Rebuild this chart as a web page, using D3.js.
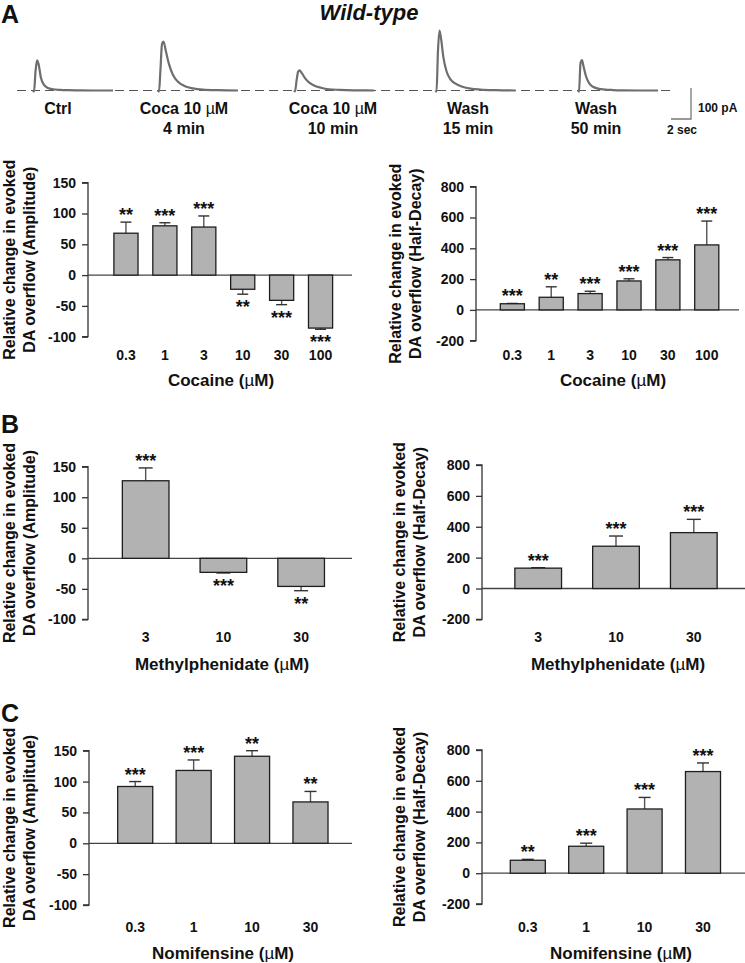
<!DOCTYPE html>
<html><head><meta charset="utf-8">
<script src="https://cdn.jsdelivr.net/npm/d3@7"></script>
<style>
body{margin:0;background:#fff}
text{font-family:"Liberation Sans",Arial,Helvetica,sans-serif;font-weight:bold;fill:#111}
</style>
</head><body><svg id="c" width="745" height="963"></svg>
<script>
// ---------------- DATA ----------------
const cocaineDoses = ["0.3","1","3","10","30","100"];
const cocaineAmp = [68, 80, 78, -23, -41, -86];
const cocaineAmpErr = [18, 5, 18, 8, 7, 2];
const cocaineAmpSig = ["**","***","***","**","***","***"];
const cocaineDecay = [40, 82, 106, 188, 325, 422];
const cocaineDecayErr = [2, 68, 15, 14, 15, 155];
const cocaineDecaySig = ["***","**","***","***","***","***"];

const mphDoses = ["3","10","30"];
const mphAmp = [127, -23, -46];
const mphAmpErr = [21, 1, 7];
const mphAmpSig = ["***","***","**"];
const mphDecay = [132, 274, 362];
const mphDecayErr = [3, 66, 86];
const mphDecaySig = ["***","***","***"];

const nomDoses = ["0.3","1","10","30"];
const nomAmp = [92, 118, 141, 67];
const nomAmpErr = [8, 17, 9, 17];
const nomAmpSig = ["***","***","**","**"];
const nomDecay = [84, 175, 417, 660];
const nomDecayErr = [6, 20, 75, 56];
const nomDecaySig = ["**","***","***","***"];

const ampTicks = [-100, -50, 0, 50, 100, 150];
const decayTicks = [-200, 0, 200, 400, 600, 800];

// example traces (time in s, current in pA)
const traceTime = [0, 0.1, 0.25, 0.4, 0.55, 0.8, 1.1, 1.5, 2.0, 2.7, 3.5, 4.5, 6, 8];
const traceCtrl   = [0, -4, 60, 97, 86, 40, 18, 8, 4, 2, 1, 0.5, 0, 0];
const traceCoca4  = [0, -4, 70, 150, 158, 125, 85, 50, 28, 14, 7, 3, 1, 0];
const traceCoca10 = [0, -3, 30, 60, 65, 55, 40, 26, 16, 9, 4, 2, 0.5, 0];
const traceWash15 = [0, -4, 130, 193, 168, 105, 62, 36, 22, 12, 6, 3, 1, 0];
const traceWash50 = [0, -4, 88, 98, 78, 46, 24, 12, 6, 3, 1.5, 0.5, 0, 0];
const traceLabels = [["Ctrl"], ["Coca 10 µM", "4 min"], ["Coca 10 µM", "10 min"], ["Wash", "15 min"], ["Wash", "50 min"]];

// ---------------- DRAW ----------------
const svg = d3.select("#c");

function addText(sel, str) {
  const parts = str.split("µ");
  parts.forEach((p, i) => {
    if (p) sel.append("tspan").text(p);
    if (i < parts.length - 1) sel.append("tspan").attr("font-weight", "normal").text("µ");
  });
  return sel;
}

// header
svg.append("text").attr("x", 1).attr("y", 23).attr("font-size", 25).text("A");
svg.append("text").attr("x", 369).attr("y", 20).attr("text-anchor", "middle")
  .attr("font-size", 22).attr("font-style", "italic").text("Wild-type");

// traces
const tx = d3.scaleLinear().domain([0, 2]).range([0, 20]);
const ty = d3.scaleLinear().domain([0, 100]).range([90.5, 59.5]);
svg.append("line").attr("x1", 17).attr("x2", 671).attr("y1", ty(0)).attr("y2", ty(0))
  .attr("stroke", "#555").attr("stroke-width", 1.2).attr("stroke-dasharray", "9,5");
const traces = [traceCtrl, traceCoca4, traceCoca10, traceWash15, traceWash50];
const traceX0 = [33, 158, 294, 435.5, 578];
const labelX = [58, 184, 333, 468, 596];
const line = d3.line().x(d => tx(d[0])).y(d => ty(d[1])).curve(d3.curveMonotoneX);
traces.forEach((tr, i) => {
  svg.append("path").attr("transform", `translate(${traceX0[i]},0)`)
    .attr("d", line(traceTime.map((t, k) => [t, tr[k]])))
    .attr("fill", "none").attr("stroke", "#6e6e6e").attr("stroke-width", 2.2);
  traceLabels[i].forEach((s, j) => {
    addText(svg.append("text").attr("x", labelX[i]).attr("y", 114 + j * 20)
      .attr("text-anchor", "middle").attr("font-size", 16), s);
  });
});
// scale bar
const sb = {x: 691, y: 119};
svg.append("path")
  .attr("d", `M${sb.x - (tx(2) - tx(0))},${sb.y}H${sb.x}V${sb.y - (ty(0) - ty(100))}`)
  .attr("fill", "none").attr("stroke", "#777").attr("stroke-width", 1.3);
svg.append("text").attr("x", 698).attr("y", 112).attr("font-size", 12).text("100 pA");
svg.append("text").attr("x", 667).attr("y", 134).attr("font-size", 12).text("2 sec");

// panel letters
svg.append("text").attr("x", 1).attr("y", 433).attr("font-size", 25).text("B");
svg.append("text").attr("x", 1).attr("y", 722).attr("font-size", 25).text("C");

function panel(p) {
  const g = svg.append("g");
  const x = d3.scaleBand().domain(p.cats).range(p.xr).paddingInner(p.pad).paddingOuter(p.pad / 2);
  const y = d3.scaleLinear().domain(p.dom).range(p.yr);
  const axis = d3.axisLeft(y).tickValues(p.ticks).tickSize(6).tickPadding(6).tickFormat(d => String(d));
  const ag = g.append("g").attr("transform", `translate(${p.ax},0)`).call(axis);
  ag.select(".domain").attr("stroke", "#333").attr("stroke-width", 1.3).attr("d", `M-6,${y(p.dom[1])}H0V${y(p.dom[0])}H-6`);
  ag.selectAll(".tick line").attr("stroke", "#333").attr("stroke-width", 1.3);
  ag.selectAll(".tick text").attr("font-size", 14).attr("fill", "#111")
    .attr("font-family", '"Liberation Sans",Arial,sans-serif').attr("font-weight", "bold");
  g.append("line").attr("x1", p.ax).attr("x2", p.zx).attr("y1", y(0)).attr("y2", y(0))
    .attr("stroke", "#444").attr("stroke-width", 1.3);
  const data = p.cats.map((c, i) => ({c, v: p.vals[i], e: p.errs[i], s: p.sig[i]}));
  const bw = x.bandwidth();
  data.forEach(d => {
    const xc = x(d.c) + bw / 2;
    const ye = y(d.v >= 0 ? d.v + d.e : d.v - d.e);
    g.append("line").attr("x1", xc).attr("x2", xc).attr("y1", y(d.v)).attr("y2", ye)
      .attr("stroke", "#555").attr("stroke-width", 1.4);
    g.append("line").attr("x1", xc - p.cap / 2).attr("x2", xc + p.cap / 2).attr("y1", ye).attr("y2", ye)
      .attr("stroke", "#333").attr("stroke-width", 1.4);
    g.append("text").attr("x", xc).attr("y", d.v >= 0 ? ye - 1 : ye + 19)
      .attr("text-anchor", "middle").attr("font-size", 18).text(d.s);
  });
  g.selectAll("rect.bar").data(data).join("rect").attr("class", "bar")
    .attr("x", d => x(d.c)).attr("width", bw)
    .attr("y", d => y(Math.max(0, d.v))).attr("height", d => Math.abs(y(d.v) - y(0)))
    .attr("fill", "#b2b2b2").attr("stroke", "#1e1e1e").attr("stroke-width", 1.3);
  g.selectAll("text.cat").data(data).join("text").attr("class", "cat")
    .attr("x", d => x(d.c) + bw / 2).attr("y", p.catY).attr("dy", "0.35em")
    .attr("text-anchor", "middle").attr("font-size", 14).text(d => d.c);
  addText(g.append("text").attr("x", p.xtX).attr("y", p.xtY).attr("dy", "0.35em")
    .attr("text-anchor", "middle").attr("font-size", 17), p.xTitle);
  const yc = (y(p.dom[0]) + y(p.dom[1])) / 2;
  p.yTitle.forEach((s, j) => {
    g.append("text").attr("transform", `translate(${p.ytX[j]},${yc}) rotate(-90)`)
      .attr("text-anchor", "middle").attr("font-size", 16).text(s);
  });
}

const ampTitle = ["Relative change in evoked", "DA overflow (Amplitude)"];
const decTitle = ["Relative change in evoked", "DA overflow (Half-Decay)"];

panel({cats: cocaineDoses, vals: cocaineAmp, errs: cocaineAmpErr, sig: cocaineAmpSig,
  dom: [-100, 150], ticks: ampTicks, yr: [336.7, 182.7], xr: [106.5, 340], pad: 0.38, cap: 11,
  ax: 88, zx: 352, catY: 355, xTitle: "Cocaine (µM)", xtX: 221, xtY: 380, yTitle: ampTitle, ytX: [15, 35]});
panel({cats: cocaineDoses, vals: cocaineDecay, errs: cocaineDecayErr, sig: cocaineDecaySig,
  dom: [-200, 800], ticks: decayTicks, yr: [340.7, 186.7], xr: [492.9, 726.2], pad: 0.38, cap: 11,
  ax: 476, zx: 739, catY: 355, xTitle: "Cocaine (µM)", xtX: 613, xtY: 380, yTitle: decTitle, ytX: [401, 421]});
panel({cats: mphDoses, vals: mphAmp, errs: mphAmpErr, sig: mphAmpSig,
  dom: [-100, 150], ticks: ampTicks, yr: [619.4, 466.7], xr: [106.8, 340], pad: 0.4, cap: 14,
  ax: 88, zx: 352, catY: 637, xTitle: "Methylphenidate (µM)", xtX: 222, xtY: 664, yTitle: ampTitle, ytX: [15, 35]});
panel({cats: mphDoses, vals: mphDecay, errs: mphDecayErr, sig: mphDecaySig,
  dom: [-200, 800], ticks: decayTicks, yr: [619.4, 465], xr: [499.3, 732.7], pad: 0.4, cap: 14,
  ax: 482, zx: 745, catY: 637, xTitle: "Methylphenidate (µM)", xtX: 618, xtY: 664, yTitle: decTitle, ytX: [405, 425]});
panel({cats: nomDoses, vals: nomAmp, errs: nomAmpErr, sig: nomAmpSig,
  dom: [-100, 150], ticks: ampTicks, yr: [905, 750.7], xr: [106, 339.7], pad: 0.4, cap: 12,
  ax: 89, zx: 352, catY: 927, xTitle: "Nomifensine (µM)", xtX: 223, xtY: 953, yTitle: ampTitle, ytX: [15, 35]});
panel({cats: nomDoses, vals: nomDecay, errs: nomDecayErr, sig: nomDecaySig,
  dom: [-200, 800], ticks: decayTicks, yr: [904, 750], xr: [498.6, 732.2], pad: 0.4, cap: 12,
  ax: 482, zx: 745, catY: 927, xTitle: "Nomifensine (µM)", xtX: 621, xtY: 953, yTitle: decTitle, ytX: [405, 425]});
</script>
</body></html>
